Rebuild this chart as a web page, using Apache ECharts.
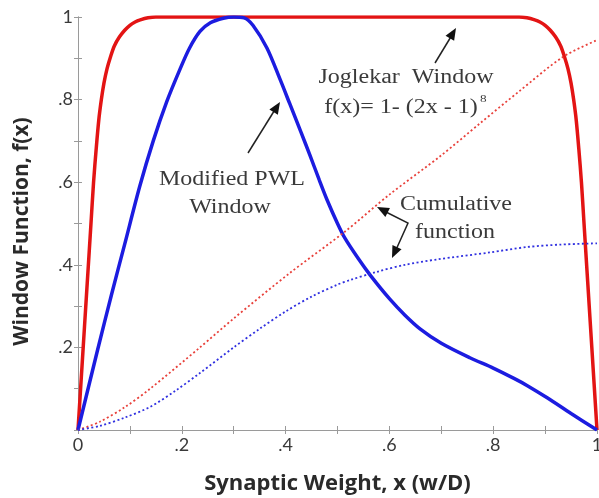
<!DOCTYPE html>
<html>
<head>
    <meta charset="utf-8">
    <title>Window functions</title>
    <script src="https://cdn.jsdelivr.net/npm/echarts@6/dist/echarts.min.js"></script>
</head>
<body style="margin:0">
    <div id="main" style="width: 599px;height:498px;"></div>
    <script type="text/javascript">
    // values
    var joglekarX = [0, 0.005, 0.01, 0.015, 0.02, 0.025, 0.03, 0.035, 0.04, 0.045, 0.05, 0.056, 0.063, 0.07, 0.08, 0.09,
                     0.1, 0.11, 0.12, 0.135, 0.15, 0.5, 0.85, 0.865, 0.88, 0.89, 0.9, 0.91, 0.92, 0.93, 0.937, 0.944,
                     0.95, 0.955, 0.96, 0.965, 0.97, 0.975, 0.98, 0.985, 0.99, 0.995, 1];
    var joglekarY = [0, 0.1, 0.2, 0.3, 0.4, 0.5, 0.6, 0.68, 0.75, 0.8, 0.84, 0.875, 0.905, 0.93, 0.952, 0.968,
                     0.98, 0.988, 0.993, 0.998, 1, 1, 1, 0.998, 0.993, 0.988, 0.98, 0.968, 0.952, 0.93, 0.905, 0.875,
                     0.84, 0.8, 0.75, 0.68, 0.6, 0.5, 0.4, 0.3, 0.2, 0.1, 0];

    var pwlX = [0, 0.037, 0.065, 0.09, 0.119, 0.145, 0.171, 0.197, 0.215, 0.235, 0.255, 0.28, 0.3, 0.32, 0.337,
                0.364, 0.389, 0.408, 0.43, 0.447, 0.465, 0.48, 0.5, 0.514, 0.54, 0.563, 0.6, 0.63, 0.659, 0.7,
                0.755, 0.8, 0.84, 0.865, 0.904, 0.95, 1];
    var pwlY = [0, 0.19, 0.33, 0.45, 0.59, 0.7, 0.795, 0.875, 0.925, 0.965, 0.986, 0.997, 1, 0.998, 0.98,
                0.925, 0.85, 0.79, 0.72, 0.665, 0.605, 0.557, 0.5, 0.465, 0.415, 0.375, 0.318, 0.278, 0.245, 0.21,
                0.175, 0.15, 0.125, 0.108, 0.078, 0.04, 0];

    var cumJogX = [0, 0.042, 0.09, 0.139, 0.235, 0.3, 0.408, 0.514, 0.6, 0.7, 0.775, 0.85, 0.934, 1];
    var cumJogY = [0, 0.02, 0.055, 0.1, 0.2, 0.27, 0.38, 0.48, 0.57, 0.665, 0.743, 0.82, 0.903, 0.944];

    var cumPwlX = [0, 0.042, 0.09, 0.139, 0.19, 0.235, 0.3, 0.35, 0.4, 0.45, 0.5, 0.524, 0.576, 0.63, 0.692, 0.794, 0.865, 0.93, 1];
    var cumPwlY = [0, 0.01, 0.03, 0.056, 0.097, 0.138, 0.2, 0.245, 0.287, 0.323, 0.352, 0.363, 0.383, 0.4, 0.413, 0.43, 0.443, 0.449, 0.452];

    var tickLabels = ['0', '', '.2', '', '.4', '', '.6', '', '.8', '', '1'];

    function pairs(xs, ys) {
        return xs.map(function (x, i) { return [x, ys[i]]; });
    }

    // little black arrow heads for the annotations
    function head(x1, y1, x2, y2) {
        var a = Math.atan2(y2 - y1, x2 - x1), L = 12, W = 5;
        var bx = x2 - L * Math.cos(a), by = y2 - L * Math.sin(a);
        return {
            type: 'polygon',
            shape: { points: [[x2, y2],
                [bx + W * Math.sin(a), by - W * Math.cos(a)],
                [bx - W * Math.sin(a), by + W * Math.cos(a)]] },
            style: { fill: '#111' }
        };
    }
    function stroke(pts) {
        return { type: 'polyline', shape: { points: pts }, style: { stroke: '#222', lineWidth: 1.5, fill: null } };
    }

    // the figure's serif notes are a bit stretched sideways
    function note(txt, x, y, size, align) {
        return {
            type: 'text', x: x, y: y, scaleX: 1.2,
            style: { text: txt, fill: '#3a3a3a', font: (size || 20) + 'px "Liberation Serif"',
                     textAlign: align || 'center', textVerticalAlign: 'middle' }
        };
    }

    var myChart = echarts.init(document.getElementById('main'));

    var axisCommon = {
        type: 'value', min: 0, max: 1, interval: 0.1,
        axisLine: { show: true, lineStyle: { color: '#9a9a9a', width: 1 } },
        axisTick: { show: true, inside: true, length: 4, lineStyle: { color: '#9a9a9a' } },
        splitLine: { show: false }
    };
    var titleFont = { fontFamily: 'Open Sans', fontWeight: 'bold', fontSize: 21, color: '#2a2a2a' };

    var option = {
        backgroundColor: '#fff',
        animation: false,
        grid: { left: 78, right: 2, top: 17, bottom: 68, outerBoundsMode: 'none' },
        xAxis: [
            Object.assign({}, axisCommon, {
                position: 'bottom',
                name: 'Synaptic Weight, x (w/D)',
                nameLocation: 'middle', nameGap: 43,
                nameTextStyle: Object.assign({}, titleFont, { fontSize: 22 }),
                axisLabel: {
                    margin: 6, fontFamily: 'Lato', fontSize: 18, color: '#3a3a3a',
                    formatter: function (v) { return tickLabels[Math.round(v * 10)]; }
                }
            }),
            Object.assign({}, axisCommon, { position: 'top', axisLabel: { show: false } })
        ],
        yAxis: [
            Object.assign({}, axisCommon, {
                position: 'left',
                name: 'Window Function, f(x)',
                nameLocation: 'middle', nameGap: 45,
                nameTextStyle: Object.assign({ padding: [0, 16, 0, 0] }, titleFont),
                axisLabel: {
                    margin: 5, fontFamily: 'Lato', fontSize: 18, color: '#3a3a3a',
                    formatter: function (v) { var k = Math.round(v * 10); return k === 0 ? '' : tickLabels[k]; }
                }
            }),
            Object.assign({}, axisCommon, { position: 'right', axisLabel: { show: false } })
        ],
        series: [
            {
                name: 'Joglekar', type: 'line', showSymbol: false, smooth: 0.3,
                data: pairs(joglekarX, joglekarY),
                lineStyle: { color: '#e31414', width: 3.5 }
            },
            {
                name: 'Modified PWL', type: 'line', showSymbol: false, smooth: 0.3,
                data: pairs(pwlX, pwlY),
                lineStyle: { color: '#1c1ce0', width: 3.5 }
            },
            {
                name: 'Cumulative Joglekar', type: 'line', showSymbol: false, smooth: 0.3,
                data: pairs(cumJogX, cumJogY),
                lineStyle: { color: '#e8403a', width: 1.8, type: [2, 2.5] }
            },
            {
                name: 'Cumulative PWL', type: 'line', showSymbol: false, smooth: 0.3,
                data: pairs(cumPwlX, cumPwlY),
                lineStyle: { color: '#3030e0', width: 1.8, type: [2, 2.5] }
            }
        ],
        graphic: [
            note('Joglekar  Window', 406, 78),
            note('f(x)= 1- (2x - 1)', 401, 108),
            note('8', 480, 99, 11, 'left'),
            note('Modified PWL', 232, 180),
            note('Window', 230, 208),
            note('Cumulative', 456, 205),
            note('function', 455, 233),
            stroke([[435, 63], [452, 35]]), head(435, 63, 456, 28),
            stroke([[248, 153], [276, 108]]), head(248, 153, 280, 102),
            stroke([[384, 211], [408, 223], [395, 252]]),
            head(408, 223, 377, 207), head(408, 223, 392, 258)
        ]
    };

    myChart.setOption(option);
    </script>
</body>
</html>
